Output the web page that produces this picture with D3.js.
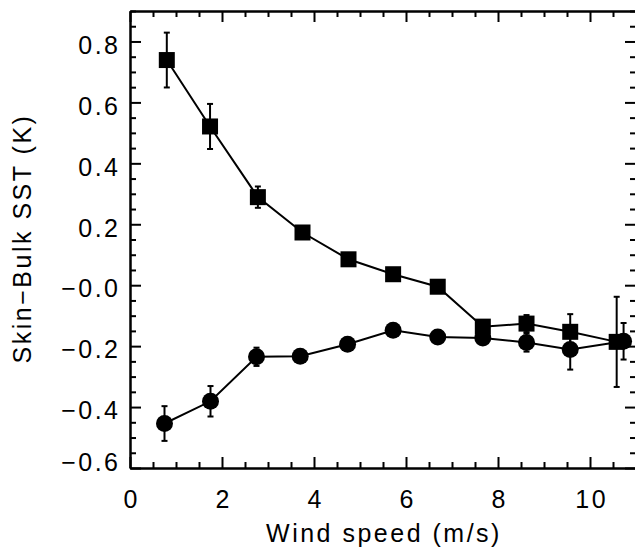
<!DOCTYPE html>
<html>
<head>
<meta charset="utf-8">
<script src="https://cdn.jsdelivr.net/npm/d3@7"></script>
<style>
  body { margin: 0; background: #fff; }
  svg { display: block; }
  .lbl { font-family: "Liberation Sans", Arial, Helvetica, sans-serif; font-size: 25px; letter-spacing: 2.5px; fill: #000; }
</style>
</head>
<body>
<svg id="chart" width="635" height="548"></svg>
<script>
// ---- Data ----
const sqWind = [0.80, 1.74, 2.78, 3.75, 4.75, 5.72, 6.69, 7.67, 8.62, 9.57, 10.58];
const sqDiff = [0.739, 0.521, 0.289, 0.173, 0.085, 0.036, -0.005, -0.136, -0.126, -0.153, -0.186];
const sqErr  = [0.090, 0.074, 0.035, 0.020, 0.015, 0.015, 0.015, 0.015, 0.028, 0.058, 0.148];

const ciWind = [0.75, 1.75, 2.75, 3.70, 4.73, 5.72, 6.69, 7.67, 8.62, 9.57, 10.73];
const ciDiff = [-0.454, -0.381, -0.235, -0.233, -0.194, -0.148, -0.170, -0.173, -0.188, -0.211, -0.184];
const ciErr  = [0.057, 0.050, 0.030, 0.020, 0.015, 0.015, 0.015, 0.015, 0.030, 0.066, 0.060];

const xTicks = [0, 2, 4, 6, 8, 10];
const yTicks = [-0.6, -0.4, -0.2, 0.0, 0.2, 0.4, 0.6, 0.8];
const xLabel = "Wind speed (m/s)";
const yLabel = "Skin\u2212Bulk SST (K)";

// ---- Layout ----
const plotL = 130, plotR = 636, plotT = 11, plotB = 468;
const majorLen = 11, minorLen = 6;

const svg = d3.select("#chart");
const x = d3.scaleLinear().domain([0, 11]).range([plotL, plotR]);
const y = d3.scaleLinear().domain([-0.6, 0.9]).range([plotB, plotT]);

const xMinor = d3.range(0, 23).filter(i => i % 4 !== 0).map(i => i * 0.5);
const yMinor = d3.range(-12, 19).filter(i => i % 4 !== 0).map(i => i * 0.05);

function styleAxis(sel) {
  sel.select(".domain").attr("stroke", "#000").attr("stroke-width", 2);
  sel.selectAll(".tick line").attr("stroke", "#000").attr("stroke-width", 2);
}

function drawAxis(axisFn, scale, transform, vals, len, fmt) {
  const a = axisFn(scale).tickValues(vals).tickSize(-len).tickSizeOuter(0).tickFormat(fmt || "");
  const g = svg.append("g").attr("transform", transform).call(a);
  styleAxis(g);
  return g;
}

// minor ticks first, majors on top
drawAxis(d3.axisBottom, x, `translate(0,${plotB})`, xMinor, minorLen);
drawAxis(d3.axisTop, x, `translate(0,${plotT})`, xMinor, minorLen);
drawAxis(d3.axisLeft, y, `translate(${plotL},0)`, yMinor, minorLen);
drawAxis(d3.axisRight, y, `translate(${plotR},0)`, yMinor, minorLen);

const yFmt = v => (v <= 0 ? "\u2212" : "") + Math.abs(v).toFixed(1);

const gx = drawAxis(d3.axisBottom, x, `translate(0,${plotB})`, xTicks, majorLen, d3.format("d"));
drawAxis(d3.axisTop, x, `translate(0,${plotT})`, xTicks, majorLen);
const gy = drawAxis(d3.axisLeft, y, `translate(${plotL},0)`, yTicks, majorLen, yFmt);
drawAxis(d3.axisRight, y, `translate(${plotR},0)`, yTicks, majorLen);

gx.attr("font-size", null).attr("font-family", null);
gx.selectAll(".tick text")
  .attr("class", "lbl")
  .attr("y", 31).attr("dy", "0.35em").attr("dx", 1.2);

gy.attr("font-size", null).attr("font-family", null);
gy.selectAll(".tick text")
  .attr("class", "lbl")
  .attr("x", -9.5)
  .attr("y", d => d === -0.6 ? -6 : 3)
  .attr("dy", "0.35em");

// ---- Axis titles ----
svg.append("text").attr("class", "lbl")
  .attr("x", (plotL + plotR) / 2 + 1).attr("y", 542)
  .attr("text-anchor", "middle")
  .text(xLabel);

svg.append("text").attr("class", "lbl")
  .attr("transform", `translate(31,${(plotT + plotB) / 2 - 1}) rotate(-90)`)
  .attr("text-anchor", "middle")
  .text(yLabel);

// ---- Series ----
const sqData = sqWind.map((w, i) => ({ w, v: sqDiff[i], e: sqErr[i] }));
const ciData = ciWind.map((w, i) => ({ w, v: ciDiff[i], e: ciErr[i] }));

const line = d3.line().x(d => x(d.w)).y(d => y(d.v));

function drawSeries(data, shape) {
  const g = svg.append("g");
  g.append("path").datum(data)
    .attr("d", line)
    .attr("fill", "none").attr("stroke", "#000").attr("stroke-width", 2);

  const eb = g.selectAll(".err").data(data).enter().append("g");
  eb.append("line")
    .attr("x1", d => x(d.w)).attr("x2", d => x(d.w))
    .attr("y1", d => y(d.v - d.e)).attr("y2", d => y(d.v + d.e))
    .attr("stroke", "#000").attr("stroke-width", 2);
  [-1, 1].forEach(s => {
    eb.append("line")
      .attr("x1", d => x(d.w) - 3).attr("x2", d => x(d.w) + 3)
      .attr("y1", d => y(d.v + s * d.e)).attr("y2", d => y(d.v + s * d.e))
      .attr("stroke", "#000").attr("stroke-width", 2);
  });

  if (shape === "square") {
    g.selectAll(".mk").data(data).enter().append("rect")
      .attr("x", d => x(d.w) - 8).attr("y", d => y(d.v) - 8)
      .attr("width", 16).attr("height", 16)
      .attr("fill", "#000");
  } else {
    g.selectAll(".mk").data(data).enter().append("circle")
      .attr("cx", d => x(d.w)).attr("cy", d => y(d.v))
      .attr("r", 8.5)
      .attr("fill", "#000");
  }
}

drawSeries(ciData, "circle");
drawSeries(sqData, "square");
</script>
</body>
</html>
